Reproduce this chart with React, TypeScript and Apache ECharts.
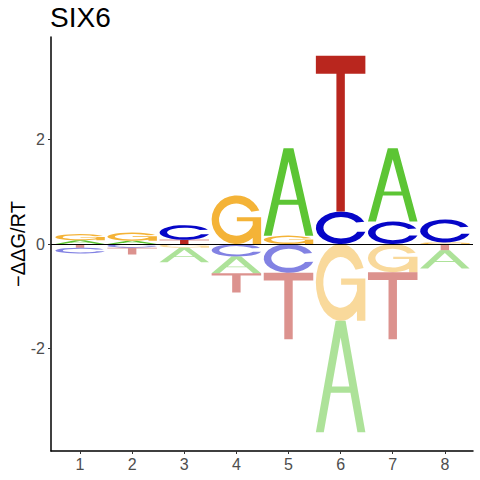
import React, { useEffect, useRef } from "react";
import * as echarts from "echarts";

// ---- data ----
const POSITIONS = [1, 2, 3, 4, 5, 6, 7, 8];
const LETTERS = ["A", "C", "G", "T"];
const A_VALUES = [0.07, 0.06, -0.28, -0.32, 1.67, -2.13, 1.4, -0.35];
const C_VALUES = [-0.11, -0.07, 0.28, -0.24, -0.55, 0.62, 0.43, 0.44];
const G_VALUES = [0.12, 0.16, -0.07, 0.93, 0.16, -1.47, -0.54, 0.03];
const T_VALUES = [-0.07, -0.13, 0.08, -0.37, -1.27, 2.98, -1.28, -0.12];
const Y_TICKS = [-2, 0, 2];
const TITLE = "SIX6";
const Y_NAME = "\u2212\u0394\u0394G/RT";

// ---- styling ----
const FONT = "'Liberation Sans', Arial, sans-serif";
const LETTER_COLORS = ["#5CC534", "#0606C8", "#F4B337", "#B9261E"];
const HALF_WIDTH = 0.475;

// glyph outlines in a 100x100 box (y down)
const GLYPHS: Record<string, string> = {
  A: "M0,100 L40,0 L60,0 L100,100 L84,100 L69.8,64.5 L30.2,64.5 L16,100 Z M32.4,59 L67.6,59 L50,15 Z",
  C: "M96.36,31.27 A50,50 0 1 0 98.51,62.1 L82.45,62.23 A35,33 0 1 1 80.31,33.5 Z",
  G: "M96.36,31.27 A50,50 0 1 0 83,87.6 L83,100 L100,100 L100,45 L51,45 L51,53 L83,53 L83,60.9 A35,33 0 1 1 80.31,33.5 Z",
  T: "M0,0 L100,0 L100,11.5 L58.5,11.5 L58.5,100 L41.5,100 L41.5,11.5 L0,11.5 Z",
};

function hexToRgba(hex: string, a: number) {
  const n = parseInt(hex.slice(1), 16);
  return `rgba(${(n >> 16) & 255},${(n >> 8) & 255},${n & 255},${a})`;
}

function buildStacks() {
  const valueSets = [A_VALUES, C_VALUES, G_VALUES, T_VALUES];
  const out: number[][] = [];
  POSITIONS.forEach((pos, i) => {
    const entries = LETTERS.map((_, li) => ({ li, v: valueSets[li][i] }));
    const up = entries.filter((e) => e.v > 0).sort((a, b) => a.v - b.v);
    const down = entries.filter((e) => e.v < 0).sort((a, b) => b.v - a.v);
    let acc = 0;
    up.forEach((e) => {
      out.push([pos, acc, acc + e.v, e.li, 0]);
      acc += e.v;
    });
    acc = 0;
    down.forEach((e) => {
      out.push([pos, acc, acc + e.v, e.li, 1]);
      acc += e.v;
    });
  });
  return out;
}

export default function App() {
  const ref = useRef<HTMLDivElement>(null);

  useEffect(() => {
    if (!ref.current) return;
    const chart = echarts.init(ref.current, null, { renderer: "svg" });
    const data = buildStacks();

    const renderItem = (_params: any, api: any) => {
      const x = api.value(0);
      const y0 = api.value(1);
      const y1 = api.value(2);
      const li = api.value(3);
      const neg = api.value(4);
      const top = Math.max(y0, y1);
      const bot = Math.min(y0, y1);
      const p0 = api.coord([x - HALF_WIDTH, top]);
      const p1 = api.coord([x + HALF_WIDTH, bot]);
      const color = LETTER_COLORS[li];
      return {
        type: "path",
        shape: {
          pathData: GLYPHS[LETTERS[li]],
          x: p0[0],
          y: p0[1],
          width: p1[0] - p0[0],
          height: p1[1] - p0[1],
          layout: "cover",
        },
        style: { fill: neg ? hexToRgba(color, 0.5) : color },
      };
    };

    const option: any = {
      animation: false,
      title: {
        text: TITLE,
        left: 50,
        top: 3,
        padding: 0,
        textStyle: { fontFamily: FONT, fontSize: 28, fontWeight: "normal", color: "#000" },
      },
      grid: { left: 51, right: 7, top: 37, bottom: 29, containLabel: false, outerBoundsMode: "none" },
      xAxis: {
        type: "value",
        min: 0.443,
        max: 8.54,
        axisLine: { onZero: false, lineStyle: { color: "#000", width: 1.5 } },
        axisTick: { customValues: POSITIONS, length: 3, lineStyle: { color: "#333", width: 1 } },
        axisLabel: { customValues: POSITIONS, color: "#4D4D4D", fontSize: 16, margin: 5, fontFamily: FONT },
        splitLine: { show: false },
      },
      yAxis: {
        type: "value",
        min: -3.96,
        max: 3.96,
        name: Y_NAME,
        nameLocation: "middle",
        nameGap: 23,
        nameRotate: 90,
        nameMoveOverlap: false,
        nameTextStyle: { fontSize: 20, color: "#000", fontFamily: FONT },
        axisLine: { show: true, onZero: false, lineStyle: { color: "#000", width: 1.5 } },
        axisTick: { show: true, customValues: Y_TICKS, length: 3, lineStyle: { color: "#333", width: 1 } },
        axisLabel: { customValues: Y_TICKS, color: "#4D4D4D", fontSize: 16, margin: 6, fontFamily: FONT },
        splitLine: { show: false },
      },
      series: [
        {
          type: "custom",
          renderItem,
          data,
          encode: { x: 0, y: [1, 2] },
          silent: true,
          markLine: {
            silent: true,
            symbol: ["none", "none"],
            label: { show: false },
            lineStyle: { color: "#000", width: 1, type: "solid" },
            data: [{ yAxis: 0 }],
          },
        },
      ],
    };
    chart.setOption(option);
    return () => chart.dispose();
  }, []);

  return (
    <div
      ref={ref}
      style={{ position: "fixed", left: 0, top: 0, width: 480, height: 480, background: "#fff" }}
    />
  );
}
